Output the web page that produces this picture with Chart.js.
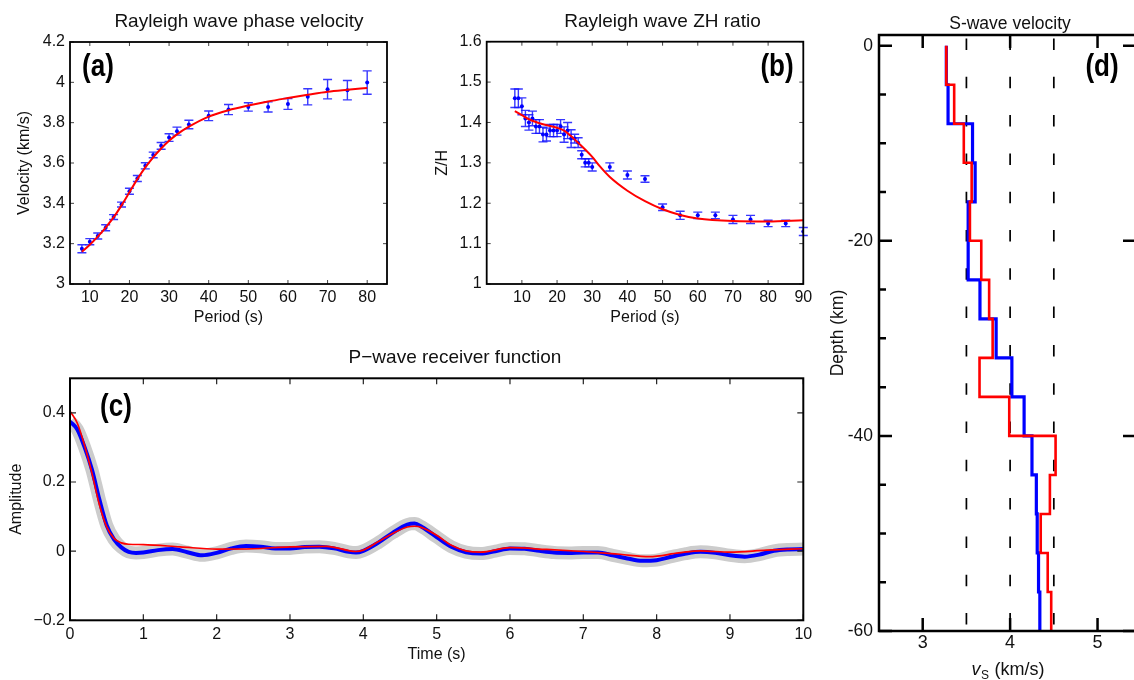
<!DOCTYPE html>
<html>
<head>
<meta charset="utf-8">
<script src="https://cdn.jsdelivr.net/npm/chart.js@4.4.1/dist/chart.umd.min.js"></script>
<style>
html, body { margin: 0; padding: 0; background: #fff; width: 1134px; height: 680px; overflow: hidden; }
canvas { position: absolute; }
</style>
</head>
<body>
<canvas id="grafA" style="left:0;top:0" width="420" height="340"></canvas>
<canvas id="grafB" style="left:420px;top:0" width="400" height="340"></canvas>
<canvas id="grafC" style="left:0;top:340px" width="820" height="340"></canvas>
<canvas id="grafD" style="left:820px;top:0" width="340" height="680"></canvas>
<script>
// (a) Rayleigh wave phase velocity
const periodoA = [8, 10, 12, 14, 16, 18, 20, 22, 24, 26, 28, 30, 32, 35, 40, 45, 50, 55, 60, 65, 70, 75, 80]
const velObsA = [3.175, 3.21, 3.238, 3.279, 3.332, 3.394, 3.46, 3.523, 3.586, 3.64, 3.685, 3.726, 3.758, 3.791, 3.834, 3.865, 3.878, 3.878, 3.893, 3.928, 3.966, 3.961, 3.999]
const velErrA = [0.02, 0.015, 0.015, 0.015, 0.012, 0.012, 0.015, 0.015, 0.015, 0.014, 0.017, 0.019, 0.02, 0.021, 0.024, 0.025, 0.021, 0.025, 0.027, 0.04, 0.048, 0.048, 0.058]
const velPredA = [3.16, 3.195, 3.235, 3.28, 3.33, 3.39, 3.455, 3.52, 3.578, 3.628, 3.672, 3.71, 3.742, 3.78, 3.83, 3.862, 3.885, 3.905, 3.922, 3.938, 3.953, 3.963, 3.972]
const ticksXA = [10, 20, 30, 40, 50, 60, 70, 80]
const ticksYA = [3, 3.2, 3.4, 3.6, 3.8, 4, 4.2]

// (b) Rayleigh wave ZH ratio
const periodoB = [8, 9, 10, 11, 12, 13, 14, 15, 16, 17, 18, 19, 20, 21, 22, 23, 24, 25, 26, 27, 28, 29, 30, 35, 40, 45, 50, 55, 60, 65, 70, 75, 80, 85, 90]
const zhObsB = [1.46, 1.46, 1.44, 1.41, 1.40, 1.41, 1.39, 1.39, 1.37, 1.37, 1.38, 1.38, 1.38, 1.39, 1.37, 1.38, 1.36, 1.36, 1.35, 1.32, 1.30, 1.30, 1.29, 1.29, 1.27, 1.26, 1.19, 1.17, 1.17, 1.17, 1.16, 1.16, 1.15, 1.15, 1.13]
const zhErrB = [0.023, 0.023, 0.021, 0.02, 0.019, 0.018, 0.017, 0.017, 0.018, 0.016, 0.015, 0.015, 0.015, 0.017, 0.019, 0.02, 0.022, 0.011, 0.012, 0.01, 0.01, 0.01, 0.01, 0.01, 0.01, 0.008, 0.008, 0.01, 0.008, 0.008, 0.01, 0.01, 0.008, 0.008, 0.01]
const periodoPredB = [8, 10, 12, 15, 20, 22, 25, 28, 30, 32, 35, 40, 45, 50, 55, 60, 70, 80, 90]
const zhPredB = [1.428, 1.418, 1.408, 1.398, 1.387, 1.38, 1.358, 1.333, 1.315, 1.293, 1.265, 1.231, 1.205, 1.185, 1.171, 1.162, 1.156, 1.155, 1.158]
const ticksXB = [10, 20, 30, 40, 50, 60, 70, 80, 90]
const ticksYB = [1, 1.1, 1.2, 1.3, 1.4, 1.5, 1.6]

// (c) P-wave receiver function
const tempoObsC = [0, 0.1, 0.2, 0.3, 0.4, 0.5, 0.6, 0.7, 0.8, 0.9, 1.0, 1.2, 1.4, 1.6, 1.8, 2.0, 2.2, 2.4, 2.6, 2.8, 3.0, 3.2, 3.4, 3.6, 3.8, 3.9, 4.0, 4.2, 4.4, 4.6, 4.7, 4.8, 5.0, 5.2, 5.4, 5.6, 5.8, 6.0, 6.2, 6.4, 6.6, 6.8, 7.0, 7.2, 7.4, 7.6, 7.8, 8.0, 8.2, 8.4, 8.6, 8.8, 9.0, 9.2, 9.4, 9.6, 9.8, 10]
const rfObsC = [0.375, 0.352, 0.30, 0.235, 0.15, 0.075, 0.034, 0.011, -0.002, -0.005, -0.004, 0.003, 0.006, -0.003, -0.012, -0.005, 0.008, 0.015, 0.013, 0.008, 0.008, 0.012, 0.013, 0.008, -0.002, -0.004, 0.001, 0.024, 0.053, 0.077, 0.08, 0.07, 0.041, 0.0125, -0.003, -0.007, 0, 0.008, 0.007, 0.001, -0.004, -0.005, -0.004, -0.004, -0.012, -0.021, -0.028, -0.026, -0.016, -0.007, -0.002, -0.005, -0.012, -0.016, -0.01, 0.001, 0.005, 0.006]
const tempoPredC = [0, 0.1, 0.2, 0.3, 0.4, 0.5, 0.6, 0.7, 0.8, 1.0, 1.5, 2.0, 2.5, 3.0, 3.5, 3.9, 4.0, 4.2, 4.4, 4.6, 4.7, 4.8, 5.0, 5.2, 5.4, 5.6, 6.0, 6.5, 7.0, 7.5, 7.9, 8.3, 8.6, 9.0, 9.5, 10]
const rfPredC = [0.405, 0.37, 0.305, 0.225, 0.135, 0.07, 0.037, 0.024, 0.02, 0.019, 0.0125, 0.006, 0.007, 0.0125, 0.014, -0.001, 0.003, 0.027, 0.051, 0.07, 0.072, 0.068, 0.046, 0.017, 0.001, -0.003, 0.01, 0.005, -0.001, -0.009, -0.016, -0.005, 0.001, -0.003, 0.003, 0.007]
const ticksXC = [0, 1, 2, 3, 4, 5, 6, 7, 8, 9, 10]
const ticksYC = [-0.2, 0, 0.2, 0.4]

// (d) S-wave velocity
const limitesCamadasD = [0, -4, -8, -12, -16, -20, -24, -28, -32, -36, -40, -44, -48, -52, -56, -60]
const vsAzulD = [3.27, 3.29, 3.57, 3.60, 3.52, 3.52, 3.655, 3.84, 4.02, 4.16, 4.25, 4.30, 4.31, 4.325, 4.34]
const vsVermelhoD = [3.27, 3.36, 3.47, 3.56, 3.54, 3.67, 3.76, 3.80, 3.65, 3.99, 4.52, 4.455, 4.35, 4.43, 4.47]
const linhasRefD = [3.5, 4, 4.5]
const ticksXD = [3, 4, 5]
const ticksYD = [0, -20, -40, -60]
const ticksMenoresYD = [-5, -10, -15, -25, -30, -35, -45, -50, -55]

Chart.defaults.font.family = "'Liberation Sans', Arial, Helvetica, sans-serif"
Chart.defaults.font.size = 16
Chart.defaults.color = '#111'
Chart.defaults.animation = false

const FONTE = "'Liberation Sans', Arial, Helvetica, sans-serif"
const FONTE_LETRA = "bold 31px 'Liberation Sans', Arial, sans-serif"

function pontos(xs, ys) {
    return xs.map((x, i) => ({ x: x, y: ys[i] }))
}

function degraus(limites, valores) {
    let pts = []
    for (let i = 0; i < valores.length; i++) {
        pts.push({ x: valores[i], y: limites[i] })
        pts.push({ x: valores[i], y: limites[i + 1] })
    }
    return pts
}

// moldura, marcas de escala, barras de erro, titulo e letra do painel
const painelDecor = {
    id: 'painelDecor',
    beforeDatasetsDraw(chart, args, opts) {
        if (!opts.erro) return
        const { ctx, scales: { x, y } } = chart
        const e = opts.erro
        ctx.save()
        ctx.strokeStyle = 'rgba(20,20,255,0.85)'
        ctx.lineWidth = 1.4
        for (let i = 0; i < e.x.length; i++) {
            const px = x.getPixelForValue(e.x[i])
            const p1 = y.getPixelForValue(e.y[i] - e.e[i])
            const p2 = y.getPixelForValue(e.y[i] + e.e[i])
            ctx.beginPath()
            ctx.moveTo(px, p1); ctx.lineTo(px, p2)
            ctx.moveTo(px - 4.5, p1); ctx.lineTo(px + 4.5, p1)
            ctx.moveTo(px - 4.5, p2); ctx.lineTo(px + 4.5, p2)
            ctx.stroke()
        }
        ctx.restore()
    },
    afterDraw(chart, args, opts) {
        const { ctx, chartArea: a, scales: { x, y } } = chart
        ctx.save()
        ctx.lineCap = 'butt'
        for (const t of (opts.marcas || [])) {
            ctx.strokeStyle = t.cor || '#000'
            ctx.lineWidth = t.largura || 1.5
            ctx.beginPath()
            for (const v of t.valores) {
                if (t.lado == 'left' || t.lado == 'right') {
                    const py = y.getPixelForValue(v)
                    const x0 = t.lado == 'left' ? a.left : a.right
                    const dir = t.lado == 'left' ? 1 : -1
                    ctx.moveTo(x0, py); ctx.lineTo(x0 + dir * t.comp, py)
                } else {
                    const px = x.getPixelForValue(v)
                    const y0 = t.lado == 'bottom' ? a.bottom : a.top
                    const dir = t.lado == 'bottom' ? -1 : 1
                    ctx.moveTo(px, y0); ctx.lineTo(px, y0 + dir * t.comp)
                }
            }
            ctx.stroke()
        }
        ctx.strokeStyle = '#000'
        ctx.lineWidth = opts.moldura
        ctx.strokeRect(a.left, a.top, a.right - a.left, a.bottom - a.top)

        ctx.fillStyle = '#111'
        ctx.textAlign = 'center'
        ctx.textBaseline = 'middle'
        ctx.font = opts.fonteTitulo + ' ' + FONTE
        ctx.fillText(opts.titulo, opts.tituloX, opts.tituloY)

        // letra do painel, em negrito condensado
        ctx.save()
        ctx.translate(opts.letraX, opts.letraY)
        ctx.scale(0.84, 1)
        ctx.fillStyle = '#000'
        ctx.font = FONTE_LETRA
        ctx.fillText(opts.letra, 0, 0)
        ctx.restore()

        if (opts.rotuloVs) {
            // v_S (km/s) com subscrito
            const r = opts.rotuloVs
            ctx.textAlign = 'left'
            ctx.fillStyle = '#111'
            const f1 = 'italic 18px ' + FONTE, f2 = '12px ' + FONTE, f3 = '18px ' + FONTE
            ctx.font = f1; const w1 = ctx.measureText('v').width
            ctx.font = f2; const w2 = ctx.measureText('S').width
            ctx.font = f3; const w3 = ctx.measureText(' (km/s)').width
            let x0 = r.x - (w1 + w2 + w3) / 2
            ctx.font = f1; ctx.fillText('v', x0, r.y)
            ctx.font = f2; ctx.fillText('S', x0 + w1 + 0.5, r.y + 6)
            ctx.font = f3; ctx.fillText(' (km/s)', x0 + w1 + w2 + 1, r.y)
        }
        ctx.restore()
    }
}

function escala(cfg) {
    return {
        type: 'linear',
        min: cfg.min,
        max: cfg.max,
        grid: { display: false, drawTicks: false },
        border: { display: false },
        afterBuildTicks: function (s) { s.ticks = cfg.ticks.map(v => ({ value: v })) },
        afterFit: function (s) {
            if (cfg.largura !== undefined) s.width = cfg.largura
            if (cfg.altura !== undefined) s.height = cfg.altura
        },
        ticks: {
            padding: cfg.pad,
            color: '#111',
            font: { size: cfg.fonte || 16 },
            maxRotation: 0,
            autoSkip: false,
            callback: cfg.formato || function (value) { return String(value) }
        },
        title: cfg.titulo ? {
            display: true,
            text: cfg.titulo,
            color: '#111',
            font: { size: cfg.fonteTitulo || 16 },
            padding: cfg.padTitulo
        } : { display: false }
    }
}

function criarGraficoVelocidadeFase() {
    new Chart(document.getElementById('grafA'), {
        type: 'line',
        data: {
            datasets: [
                {
                    label: 'Predito',
                    data: pontos(periodoA, velPredA),
                    borderColor: '#ff0000',
                    borderWidth: 2,
                    pointRadius: 0,
                    cubicInterpolationMode: 'monotone'
                },
                {
                    label: 'Observado',
                    data: pontos(periodoA, velObsA),
                    showLine: false,
                    pointRadius: 2,
                    pointBackgroundColor: '#0000ff',
                    pointBorderColor: '#0000ff',
                    pointBorderWidth: 0
                }
            ]
        },
        options: {
            responsive: false,
            layout: { padding: { left: 0, right: 33, top: 42, bottom: 0 } },
            plugins: {
                legend: { display: false },
                tooltip: { enabled: false },
                painelDecor: {
                    erro: { x: periodoA, y: velObsA, e: velErrA },
                    moldura: 1.8,
                    marcas: [
                        { lado: 'left', valores: ticksYA, comp: 4, cor: '#444', largura: 1 },
                        { lado: 'right', valores: ticksYA, comp: 4, cor: '#444', largura: 1 },
                        { lado: 'bottom', valores: ticksXA, comp: 4, cor: '#444', largura: 1 },
                        { lado: 'top', valores: ticksXA, comp: 4, cor: '#444', largura: 1 }
                    ],
                    titulo: 'Rayleigh wave phase velocity', fonteTitulo: '19px', tituloX: 239, tituloY: 22,
                    letra: '(a)', letraX: 98, letraY: 67
                }
            },
            scales: {
                x: escala({ min: 5, max: 85, ticks: ticksXA, altura: 56, pad: 4.4, titulo: 'Period (s)', padTitulo: { top: 0, bottom: 12.4 } }),
                y: escala({ min: 3, max: 4.2, ticks: ticksYA, largura: 70, pad: 5, titulo: 'Velocity (km/s)', padTitulo: { top: 15.4, bottom: 0 } })
            }
        },
        plugins: [painelDecor]
    })
}

function criarGraficoRazaoZH() {
    new Chart(document.getElementById('grafB'), {
        type: 'line',
        data: {
            datasets: [
                {
                    label: 'Predito',
                    data: pontos(periodoPredB, zhPredB),
                    borderColor: '#ff0000',
                    borderWidth: 2,
                    pointRadius: 0,
                    cubicInterpolationMode: 'monotone'
                },
                {
                    label: 'Observado',
                    data: pontos(periodoB, zhObsB),
                    showLine: false,
                    pointRadius: 2,
                    pointBackgroundColor: '#0000ff',
                    pointBorderColor: '#0000ff',
                    pointBorderWidth: 0
                }
            ]
        },
        options: {
            responsive: false,
            layout: { padding: { left: 0, right: 16.7, top: 41.7, bottom: 0 } },
            plugins: {
                legend: { display: false },
                tooltip: { enabled: false },
                painelDecor: {
                    erro: { x: periodoB, y: zhObsB, e: zhErrB },
                    moldura: 1.8,
                    marcas: [
                        { lado: 'left', valores: ticksYB, comp: 4, cor: '#444', largura: 1 },
                        { lado: 'right', valores: ticksYB, comp: 4, cor: '#444', largura: 1 },
                        { lado: 'bottom', valores: ticksXB, comp: 4, cor: '#444', largura: 1 },
                        { lado: 'top', valores: ticksXB, comp: 4, cor: '#444', largura: 1 }
                    ],
                    titulo: 'Rayleigh wave ZH ratio', fonteTitulo: '19px', tituloX: 242.5, tituloY: 22,
                    letra: '(b)', letraX: 357, letraY: 67
                }
            },
            scales: {
                x: escala({ min: 0, max: 90, ticks: ticksXB, altura: 56, pad: 4.4, titulo: 'Period (s)', padTitulo: { top: 0, bottom: 12.4 } }),
                y: escala({ min: 1, max: 1.6, ticks: ticksYB, largura: 66.7, pad: 5, titulo: 'Z/H', padTitulo: { top: 13.4, bottom: 0 } })
            }
        },
        plugins: [painelDecor]
    })
}

function criarGraficoFuncaoReceptor() {
    new Chart(document.getElementById('grafC'), {
        type: 'line',
        data: {
            datasets: [
                {
                    label: 'Predito',
                    data: pontos(tempoPredC, rfPredC),
                    borderColor: '#ff0000',
                    borderWidth: 1.7,
                    pointRadius: 0,
                    cubicInterpolationMode: 'monotone'
                },
                {
                    label: 'Observado',
                    data: pontos(tempoObsC, rfObsC),
                    borderColor: '#0000ff',
                    borderWidth: 4,
                    pointRadius: 0,
                    cubicInterpolationMode: 'monotone'
                },
                {
                    label: 'Incerteza',
                    data: pontos(tempoObsC, rfObsC),
                    borderColor: 'rgb(204,204,204)',
                    borderWidth: 13,
                    pointRadius: 0,
                    clip: 0,
                    cubicInterpolationMode: 'monotone'
                }
            ]
        },
        options: {
            responsive: false,
            layout: { padding: { left: 0, right: 16.7, top: 38.3, bottom: 0 } },
            plugins: {
                legend: { display: false },
                tooltip: { enabled: false },
                painelDecor: {
                    moldura: 2,
                    marcas: [
                        { lado: 'left', valores: ticksYC, comp: 6, cor: '#222', largura: 1.2 },
                        { lado: 'right', valores: ticksYC, comp: 6, cor: '#222', largura: 1.2 },
                        { lado: 'bottom', valores: ticksXC, comp: 6, cor: '#222', largura: 1.2 },
                        { lado: 'top', valores: ticksXC, comp: 6, cor: '#222', largura: 1.2 }
                    ],
                    titulo: 'P\u2212wave receiver function', fonteTitulo: '19px', tituloX: 455, tituloY: 18,
                    letra: '(c)', letraX: 116, letraY: 67
                }
            },
            scales: {
                x: escala({ min: 0, max: 10, ticks: ticksXC, altura: 59.7, pad: 5.1, titulo: 'Time (s)', padTitulo: { top: 0, bottom: 15.4 } }),
                y: escala({
                    min: -0.2, max: 0.5, ticks: ticksYC, largura: 70, pad: 5, titulo: 'Amplitude', padTitulo: { top: 7.4, bottom: 0 },
                    formato: function (value) { return String(value).replace('-', '\u2212') }
                })
            }
        },
        plugins: [painelDecor]
    })
}

function criarGraficoVelocidadeS() {
    let datasets = []
    datasets.push({
        label: 'Vermelho',
        data: degraus(limitesCamadasD, vsVermelhoD),
        borderColor: '#ff0000',
        borderWidth: 2.6,
        pointRadius: 0,
        tension: 0
    })
    datasets.push({
        label: 'Azul',
        data: degraus(limitesCamadasD, vsAzulD),
        borderColor: '#0000ff',
        borderWidth: 3.2,
        pointRadius: 0,
        tension: 0
    })
    for (let i = 0; i < linhasRefD.length; i++) {
        datasets.push({
            label: 'Ref ' + linhasRefD[i],
            data: [{ x: linhasRefD[i], y: 1.1 }, { x: linhasRefD[i], y: -60 }],
            borderColor: '#000',
            borderWidth: 1.7,
            borderDash: [11.5, 26.8],
            borderDashOffset: 34.8,
            pointRadius: 0
        })
    }

    new Chart(document.getElementById('grafD'), {
        type: 'line',
        data: { datasets: datasets },
        options: {
            responsive: false,
            layout: { padding: { left: 0, right: 24, top: 35, bottom: 0 } },
            plugins: {
                legend: { display: false },
                tooltip: { enabled: false },
                painelDecor: {
                    moldura: 2.5,
                    marcas: [
                        { lado: 'left', valores: ticksYD, comp: 13, largura: 2.5 },
                        { lado: 'left', valores: ticksMenoresYD, comp: 7, largura: 2.5 },
                        { lado: 'right', valores: ticksYD, comp: 13, largura: 2.5 },
                        { lado: 'bottom', valores: ticksXD, comp: 13, largura: 2.5 },
                        { lado: 'top', valores: ticksXD, comp: 13, largura: 2.5 }
                    ],
                    titulo: 'S-wave velocity', fonteTitulo: '17.5px', tituloX: 190, tituloY: 24,
                    letra: '(d)', letraX: 282, letraY: 67,
                    rotuloVs: { x: 187.5, y: 670 }
                }
            },
            scales: {
                x: escala({ min: 2.5, max: 5.44, ticks: ticksXD, altura: 49, pad: 1.2, fonte: 18 }),
                y: escala({ min: -60, max: 1.1, ticks: ticksYD, largura: 59, pad: 6, fonte: 17.5, titulo: 'Depth (km)', fonteTitulo: 17.5, padTitulo: { top: 7.5, bottom: 0 } })
            }
        },
        plugins: [painelDecor]
    })
}

criarGraficoVelocidadeFase()
criarGraficoRazaoZH()
criarGraficoFuncaoReceptor()
criarGraficoVelocidadeS()
</script>
</body>
</html>
